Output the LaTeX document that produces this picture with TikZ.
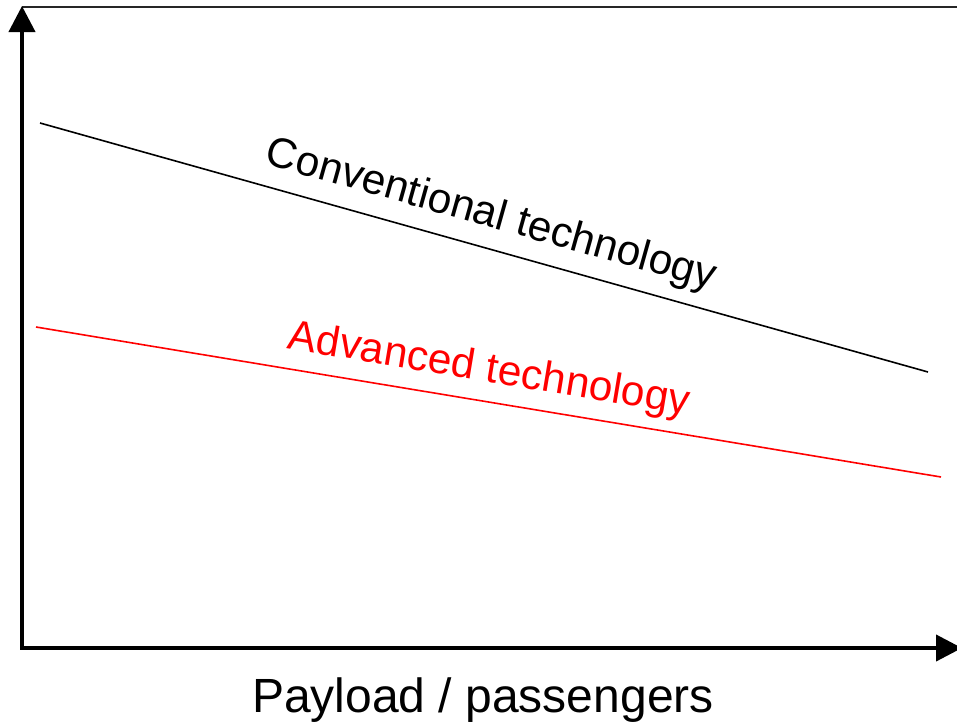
\documentclass[tikz,border=0pt]{standalone}
\usepackage{fontspec}
\setmainfont{Liberation Sans}
\usetikzlibrary{arrows.meta}
\begin{document}
\begin{tikzpicture}[x=1pt,y=-1pt,
  axis/.style={line width=4pt,-{Triangle[length=26pt,width=26pt]}},
  curve/.style={line width=1.6pt},
  lbl/.style={inner sep=0pt,font=\fontsize{42.5}{42.5}\selectfont}]
\useasboundingbox (0,0) rectangle (957,723);
\coordinate (O) at (22,648);
\coordinate (ytip) at (22,6);
\coordinate (xtip) at (962,648);
\coordinate (topL) at (22,7);
\coordinate (topR) at (957,7);
\coordinate (c1) at (40,123);
\coordinate (c2) at (928,372);
\coordinate (a1) at (36,327);
\coordinate (a2) at (941,477);
\draw[line width=2pt,black!85] (topL) -- (topR);
\draw[axis] (O) -- (ytip);
\draw[axis] ([xshift=-2pt]O) -- (xtip);
\draw[curve] (c1) -- (c2);
\draw[curve,red] (a1) -- (a2);
\node[lbl,rotate=-15.66] (conv) at (491,216) {Conventional technology};
\node[lbl,red,rotate=-9.46] (adv) at (489,371) {Advanced technology};
\node[inner sep=0pt,anchor=base,font=\fontsize{48}{48}\selectfont] (xl) at (483,712) {Payload / passengers};
\end{tikzpicture}
\end{document}
